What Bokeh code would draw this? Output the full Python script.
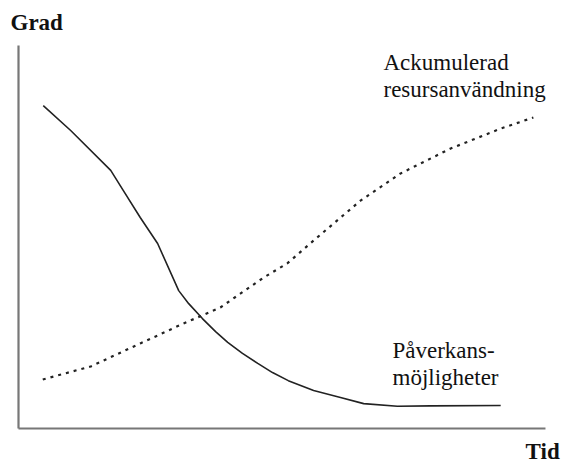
from bokeh.plotting import figure
from bokeh.models import Range1d, Label
from bokeh.embed import file_html
from bokeh.resources import INLINE

# Påverkansmöjligheter (solid)
solid_time = [4.7, 9.9, 17.5, 19.9, 23.1, 26.4, 30.4, 32.3, 34.9, 37.4, 39.7, 42.5, 45.4, 48.2, 51.2, 56.0, 61.1, 65.5, 71.9, 78.2, 91.5]
solid_grad = [84.3, 77.8, 67.4, 62.1, 55.1, 48.3, 36.0, 32.6, 28.7, 25.3, 22.5, 19.6, 17.0, 14.6, 12.5, 9.9, 8.1, 6.5, 5.8, 5.9, 6.0]

# Ackumulerad resursanvändning (dotted)
dot_time = [4.6, 13.7, 23.1, 31.3, 38.3, 46.5, 51.0, 56.7, 64.9, 72.5, 82.0, 91.5, 97.7]
dot_grad = [12.8, 16.2, 22.2, 27.4, 31.6, 39.4, 43.1, 49.9, 59.5, 66.6, 73.1, 78.3, 81.2]

# axis extents (data units)
axis_min, axis_max = 0, 100

SERIF = "Liberation Serif"

p = figure(width=561, height=466, output_backend="svg", toolbar_location=None,
           x_range=Range1d(-3.416, 103.04), y_range=Range1d(-9.92, 111.75),
           min_border=0)
p.background_fill_color = "white"
p.border_fill_color = "white"
p.outline_line_color = None
p.grid.visible = False
p.axis.visible = False

# axes drawn as bounded lines from the origin
p.segment(x0=[axis_min, axis_min], y0=[axis_min, axis_min],
          x1=[axis_max, axis_min], y1=[axis_min, axis_max],
          line_color="#777777", line_width=2.2)

p.line(solid_time, solid_grad, line_color="#222222", line_width=1.6)
p.line(dot_time, dot_grad, line_color="#222222", line_width=2.2, line_dash="3 5")

def lab(x, y, text, bold=False, align="left"):
    p.add_layout(Label(x=x, y=y, text=text, text_font=SERIF, text_font_size="23px",
                       text_font_style="bold" if bold else "normal",
                       text_color="#111111", text_align=align, text_baseline="alphabetic"))

lab(-1.52, 106.0, "Grad", bold=True)
lab(102.7, -6.0, "Tid", bold=True, align="right")
lab(69.26, 95.6, "Ackumulerad")
lab(69.26, 88.5, "resursanvändning")
lab(70.97, 20.4, "Påverkans-")
lab(70.97, 13.3, "möjligheter")

open("out.html", "w").write(file_html(p, INLINE))
